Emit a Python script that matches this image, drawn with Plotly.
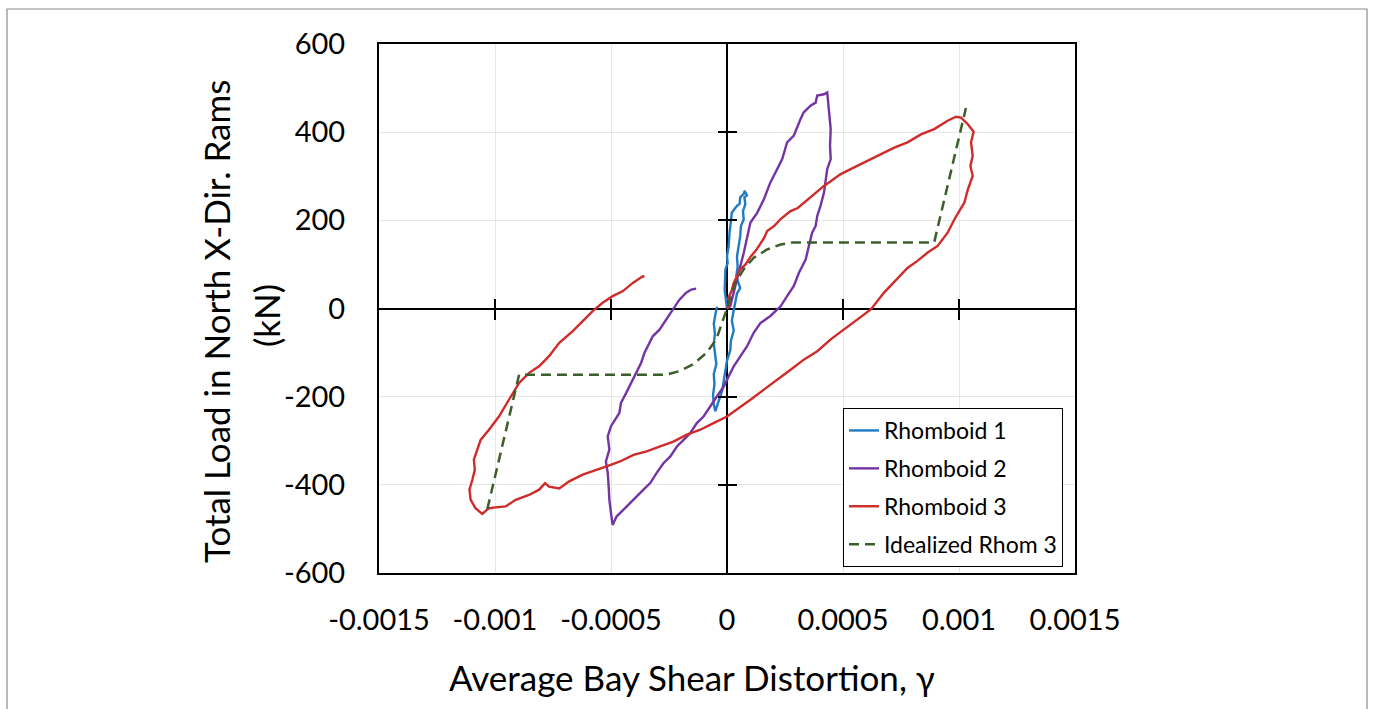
import plotly.graph_objects as go

# ---------------- data ----------------
r1_x = [0, -1.0e-5, -7e-6, 3e-6, 0, 7e-6, 1.1e-5, 1.7e-5, 2.1e-5, 4.3e-5, 5.4e-5, 5.7e-5, 7.2e-5,
        7.6e-5, 8.6e-5, 7.5e-5, 7.9e-5, 6.9e-5, 7.2e-5, 6.0e-5, 5.7e-5, 5.0e-5, 4.3e-5, 4.6e-5,
        4.0e-5, 5.0e-5, 5.7e-5, 4.3e-5, 3.6e-5, 2.9e-5, 2.1e-5, 2.9e-5, 1.7e-5, 1.4e-5, 0,
        -7e-6, -1.4e-5, -2.1e-5, -3.6e-5, -5.0e-5, -5.7e-5, -6.0e-5, -5.4e-5, -5.7e-5, -4.6e-5,
        -5.2e-5, -5.7e-5, -5.2e-5, -5.7e-5, -4.9e-5, -4.3e-5]
r1_y = [0, 42, 88, 103, 118, 141, 172, 195, 218, 233, 237, 252, 260,
        267, 257, 252, 237, 221, 202, 187, 164, 141, 118, 95,
        73, 57, 46, 34, 11, -4, -27, -50, -73, -95, -118,
        -141, -164, -187, -210, -233, -218, -195, -172, -149, -126,
        -103, -80, -57, -34, -11, 4]

r2_x = [0, 1.4e-5, 4.3e-5, 7.2e-5, 1.01e-4, 1.30e-4, 1.59e-4, 1.87e-4, 2.16e-4, 2.38e-4, 2.59e-4,
        2.88e-4, 3.17e-4, 3.31e-4, 3.60e-4, 3.82e-4, 3.89e-4, 4.18e-4, 4.32e-4, 4.40e-4, 4.47e-4,
        4.44e-4, 4.47e-4, 4.32e-4, 4.25e-4, 4.18e-4, 4.03e-4, 3.89e-4, 3.82e-4, 3.67e-4, 3.53e-4,
        3.39e-4, 3.10e-4, 2.88e-4, 2.59e-4, 2.31e-4, 1.87e-4, 1.44e-4, 1.15e-4, 8.6e-5, 5.8e-5,
        2.9e-5, 7e-6, -1.4e-5, -4.3e-5, -7.2e-5, -1.01e-4, -1.30e-4, -1.59e-4, -1.87e-4, -2.16e-4,
        -2.45e-4, -2.74e-4, -3.03e-4, -3.31e-4, -3.60e-4, -3.89e-4, -4.18e-4, -4.47e-4, -4.76e-4,
        -4.93e-4, -5.00e-4, -5.07e-4, -5.10e-4, -5.14e-4, -5.22e-4, -5.07e-4, -5.14e-4, -5.00e-4,
        -4.64e-4, -4.57e-4, -4.35e-4, -4.14e-4, -3.92e-4, -3.70e-4, -3.56e-4, -3.34e-4, -3.20e-4,
        -2.91e-4, -2.62e-4, -2.33e-4, -2.05e-4, -1.76e-4, -1.54e-4, -1.33e-4]
r2_y = [0, 5, 66, 126, 195, 217, 248, 286, 316, 339, 377,
        392, 430, 445, 460, 467, 483, 486, 490, 445, 407,
        369, 339, 316, 293, 263, 233, 210, 187, 172, 142,
        111, 81, 51, 28, 5, -17, -33, -55, -86, -108,
        -131, -154, -177, -199, -222, -245, -260, -283, -298, -313,
        -336, -351, -373, -396, -411, -427, -442, -457, -472,
        -491, -464, -434, -404, -373, -347, -320, -290, -267,
        -237, -214, -192, -169, -146, -123, -101, -78, -63,
        -48, -25, -2, 20, 36, 43, 45]

r3_x = [0, 1.2e-5, 4e-6, 2.0e-5, 2.9e-5, 4.5e-5, 5.8e-5, 8.0e-5, 1.01e-4, 1.25e-4, 1.44e-4,
        1.60e-4, 1.73e-4, 2.05e-4, 2.31e-4, 2.74e-4, 3.05e-4, 3.31e-4, 3.75e-4, 4.18e-4, 4.50e-4,
        4.90e-4, 5.48e-4, 6.05e-4, 6.63e-4, 7.21e-4, 7.78e-4, 8.36e-4, 8.93e-4, 9.51e-4, 9.87e-4,
        1.009e-3, 1.038e-3, 1.063e-3, 1.052e-3, 1.059e-3, 1.049e-3, 1.059e-3, 1.038e-3, 1.023e-3,
        1.001e-3, 9.80e-4, 9.51e-4, 9.08e-4, 8.65e-4, 8.21e-4, 7.78e-4, 7.30e-4, 6.77e-4, 6.20e-4,
        5.62e-4, 5.04e-4, 4.47e-4, 3.89e-4, 3.31e-4, 2.74e-4, 2.16e-4, 1.59e-4, 1.01e-4, 4.3e-5, 0,
        -5.8e-5, -1.15e-4, -1.73e-4, -2.31e-4, -2.88e-4, -3.46e-4, -4.03e-4, -4.61e-4, -5.19e-4,
        -5.65e-4, -6.22e-4, -6.80e-4, -7.23e-4, -7.67e-4, -7.84e-4, -8.10e-4, -8.53e-4, -9.11e-4,
        -9.54e-4, -9.97e-4, -1.026e-3, -1.055e-3, -1.084e-3, -1.105e-3, -1.110e-3, -1.098e-3,
        -1.087e-3, -1.091e-3, -1.076e-3, -1.062e-3, -1.026e-3, -9.83e-4, -9.40e-4, -8.96e-4,
        -8.53e-4, -8.10e-4, -7.67e-4, -7.23e-4, -6.66e-4, -6.23e-4, -5.79e-4, -5.36e-4, -4.93e-4,
        -4.50e-4, -4.06e-4, -3.63e-4, -3.56e-4]
r3_y = [0, 10, 22, 40, 58, 75, 89, 100, 117, 132, 148,
        160, 176, 188, 203, 221, 228, 240, 259, 278, 290,
        305, 320, 335, 350, 365, 377, 395, 407, 426, 435,
        433, 418, 401, 377, 346, 323, 301, 270, 240,
        221, 202, 172, 142, 127, 108, 92, 66, 36, -2,
        -25, -48, -70, -97, -116, -139, -161, -184, -207, -230, -245,
        -260, -275, -286, -302, -313, -324, -332, -347, -358,
        -366, -377, -392, -408, -404, -396, -411, -423, -434,
        -449, -451, -453, -466, -453, -434, -411, -389,
        -366, -343, -320, -298, -275, -245, -207, -169,
        -146, -131, -108, -78, -52, -29, -6, 13, 28,
        39, 58, 73, 72]

ideal_x = [-1.033e-3, -8.96e-4, -2.62e-4, -2.05e-4, -1.47e-4, -8.9e-5, -4.6e-5, -2.0e-5, 0,
           3.6e-5, 7.2e-5, 1.15e-4, 1.73e-4, 2.31e-4, 2.81e-4, 8.93e-4, 1.030e-3]
ideal_y = [-455, -150, -150, -142, -127, -101, -70, -33, 0,
           58, 89, 115, 134, 145, 150, 150, 455]

x_ticks = [-0.0015, -0.001, -0.0005, 0, 0.0005, 0.001, 0.0015]
x_tick_text = ["-0.0015", "-0.001", "-0.0005", "0", "0.0005", "0.001", "0.0015"]
y_ticks = [-600, -400, -200, 0, 200, 400, 600]
y_tick_text = ["-600", "-400", "-200", "0", "200", "400", "600"]
x_cross = [-0.001, -0.0005, 0.0005, 0.001]
y_cross = [-400, -200, 200, 400]

names = ["Rhomboid 1", "Rhomboid 2", "Rhomboid 3", "Idealized Rhom 3"]
colors = ["#1F7CC4", "#7434A4", "#D02A2A", "#3B5E2B"]

FONT = "Lato"
XR = [-0.0015, 0.0015]
YR = [-600, 600]

fig = go.Figure()
series = [(r1_x, r1_y), (r2_x, r2_y), (r3_x, r3_y), (ideal_x, ideal_y)]
for i, (xs, ys) in enumerate(series):
    fig.add_trace(go.Scatter(
        x=xs, y=ys, mode="lines", name=names[i], legendgroup=f"g{i}",
        line=dict(color=colors[i], width=2.4 if i < 3 else 2.5,
                  dash="solid" if i < 3 else "10px,6px"),
        hoverinfo="skip"))

# empty helper traces so the overlay tick axes exist
for xa, ya in [("x2", "y"), ("x3", "y"), ("x", "y2"), ("x", "y3")]:
    fig.add_trace(go.Scatter(x=[], y=[], xaxis=xa, yaxis=ya, showlegend=False,
                             hoverinfo="skip"))

W, H = 1376, 709
L, R, T, B = 379, 1075, 44, 573

fig.update_layout(
    width=W, height=H,
    margin=dict(l=L, r=W - R, t=T, b=H - B),
    paper_bgcolor="white", plot_bgcolor="white",
    font=dict(family=FONT, color="black"),
    showlegend=True,
    legend=dict(x=(843 - L) / (R - L), y=(B - 408) / (B - T), xanchor="left", yanchor="top",
                bordercolor="black", borderwidth=1, bgcolor="white",
                font=dict(family=FONT, size=23, color="black"),
                itemwidth=30, tracegroupgap=5, traceorder="grouped"),
    xaxis=dict(range=XR, tickvals=x_ticks, ticktext=x_tick_text, showgrid=True,
               gridcolor="#e6e6e6", gridwidth=1, zeroline=True, zerolinecolor="black",
               zerolinewidth=2, showline=True, linecolor="black", linewidth=2, mirror=True,
               ticks="", tickfont=dict(family=FONT, size=29, color="black"),
               ticklabelstandoff=20),
    yaxis=dict(range=YR, tickvals=y_ticks, ticktext=y_tick_text, showgrid=True,
               gridcolor="#e6e6e6", gridwidth=1, zeroline=True, zerolinecolor="black",
               zerolinewidth=2, showline=True, linecolor="black", linewidth=2, mirror=True,
               ticks="", tickfont=dict(family=FONT, size=29, color="black"),
               ticklabelstandoff=26),
    xaxis2=dict(overlaying="x", anchor="free", position=0.5, range=XR, tickvals=x_cross,
                ticks="outside", ticklen=10, tickwidth=2, tickcolor="black", side="bottom",
                showticklabels=False, showgrid=False, zeroline=False, showline=False),
    xaxis3=dict(overlaying="x", anchor="free", position=0.5, range=XR, tickvals=x_cross,
                ticks="outside", ticklen=10, tickwidth=2, tickcolor="black", side="top",
                showticklabels=False, showgrid=False, zeroline=False, showline=False),
    yaxis2=dict(overlaying="y", anchor="free", position=0.5, range=YR, tickvals=y_cross,
                ticks="outside", ticklen=9, tickwidth=2, tickcolor="black", side="left",
                showticklabels=False, showgrid=False, zeroline=False, showline=False),
    yaxis3=dict(overlaying="y", anchor="free", position=0.5, range=YR, tickvals=y_cross,
                ticks="outside", ticklen=9, tickwidth=2, tickcolor="black", side="right",
                showticklabels=False, showgrid=False, zeroline=False, showline=False),
)

pw, ph = R - L, B - T
def px_x(v):
    return (v - L) / pw
def px_y(v):
    return (B - v) / ph

fig.add_annotation(text="Average Bay Shear Distortion, γ", x=px_x(692), y=px_y(677),
                   xref="paper", yref="paper", showarrow=False, xanchor="center",
                   yanchor="middle", font=dict(family=FONT, size=35, color="black"))
fig.add_annotation(text="Total Load in North X-Dir. Rams", x=px_x(216), y=px_y(322),
                   xref="paper", yref="paper", showarrow=False, textangle=-90,
                   xanchor="center", yanchor="middle",
                   font=dict(family=FONT, size=35, color="black"))
fig.add_annotation(text="(kN)", x=px_x(266), y=px_y(316),
                   xref="paper", yref="paper", showarrow=False, textangle=-90,
                   xanchor="center", yanchor="middle",
                   font=dict(family=FONT, size=35, color="black"))

# outer chart border
fig.add_shape(type="rect", xref="paper", yref="paper", x0=px_x(7), x1=px_x(1367),
              y0=px_y(730), y1=px_y(9), line=dict(color="#8a8a8a", width=1.2),
              fillcolor="rgba(0,0,0,0)", layer="below")

fig.write_html("out.html", config={"displayModeBar": False},
               post_script="document.body.style.margin='0';document.body.style.overflow='hidden';")
